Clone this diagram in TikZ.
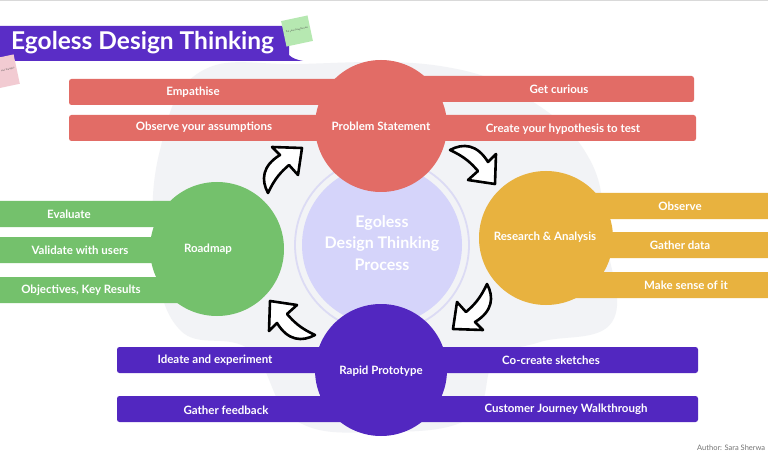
\documentclass[tikz,border=0pt]{standalone}
\usepackage{fontspec}
\setmainfont{Lato}
\definecolor{cred}{HTML}{E26C66}
\definecolor{cgreen}{HTML}{74C16C}
\definecolor{cyellow}{HTML}{E8B23F}
\definecolor{cpurple}{HTML}{5227C0}
\definecolor{cbanner}{HTML}{5A2DC6}
\definecolor{clav}{HTML}{D5D4FA}
\definecolor{cring}{HTML}{DCDBF4}
\definecolor{cblob}{HTML}{F2F3F6}
\definecolor{cnoteg}{HTML}{B6E8B1}
\definecolor{cnotep}{HTML}{F2CBD2}
\begin{document}
\begin{tikzpicture}[x=1pt,y=-1pt,
  bar/.style={rounded corners=2.5pt},
  lbl/.style={text=white,font=\fontsize{11.5}{13}\selectfont\bfseries,inner sep=0pt},
  note/.style={inner sep=0pt,font=\fontsize{2.2}{2.6}\selectfont,text=black!70},
  arrowline/.style={draw=black,fill=white,line width=2.6pt,line join=round},
  curvyarrow/.pic={
    \draw[arrowline] (21,-22) -- (-9,-23) -- (-1,-15)
      .. controls (-19,-4) and (-20,10) .. (-13,23)
      .. controls (-6,8) and (0,2) .. (8,-5)
      -- (17,5) -- cycle;
  }]
\useasboundingbox (0,0) rectangle (768,457);
\fill[white] (0,0) rectangle (768,457);
\draw[black!15,line width=1pt] (0,0.5) -- (768,0.5);

% background blob
\fill[cblob] plot[smooth cycle,tension=0.7] coordinates {
  (200,72) (300,64) (440,66) (530,100) (590,160) (606,240) (612,322)
  (540,342) (495,360) (470,418) (380,432) (295,420) (250,350)
  (180,330) (155,250) (160,150)};

% title banner
\fill[cbanner] (0,26) -- (289,26) -- (289,55) .. controls (292,58) and (297,60) .. (303,61)
  -- (280,61) -- (0,61) -- cycle;
\node[anchor=west,text=white,font=\fontsize{24.5}{28}\selectfont\bfseries,inner sep=0pt]
  (title) at (11,43) {Egoless Design Thinking};
% sticky notes
\fill[cnoteg,rotate around={12:(297,31)}] (283.5,18) rectangle (310.5,44);
\node[note,rotate=12] (noteg) at (297,30) {Put your thoughts here};
\fill[cnotep,rotate around={12:(3,72)}] (-11,57) rectangle (17,87);
\node[note,rotate=12,anchor=west] (notep) at (1,71) {your thoughts};

% central circle
\draw[cring,line width=1.8pt] (382,245) circle (87);
\fill[clav] (382,245) circle (80);
\node[text=white,font=\fontsize{16}{21.5}\selectfont\bfseries,align=center] (center) at (382,243)
  {Egoless\\Design Thinking\\Process};

% red group
\fill[cred,bar] (69,79) rectangle (380,105);
\fill[cred,bar] (69,115) rectangle (380,141);
\fill[cred,bar] (380,76) rectangle (694,102);
\fill[cred,bar] (380,115) rectangle (696,141);
\fill[cred] (381,126) circle (66);
\node[lbl] (empathise) at (193,92) {Empathise};
\node[lbl] (observeass) at (204,127) {Observe your assumptions};
\node[lbl] (curious) at (559,89) {Get curious};
\node[lbl] (hypo) at (563,129) {Create your hypothesis to test};
\node[lbl] (problem) at (381,126) {Problem Statement};

% green group
\fill[cgreen,bar] (-5,201) rectangle (215,227);
\fill[cgreen,bar] (-5,237) rectangle (215,263);
\fill[cgreen,bar] (-5,277) rectangle (215,303);
\fill[cgreen] (217,249) circle (67);
\node[lbl] (evaluate) at (69,214) {Evaluate};
\node[lbl] (validate) at (80,250) {Validate with users};
\node[lbl] (okr) at (81,290) {Objectives, Key Results};
\node[lbl] (roadmap) at (208,249) {Roadmap};

% yellow group
\fill[cyellow,bar] (546,193) rectangle (775,219);
\fill[cyellow,bar] (546,232) rectangle (775,258);
\fill[cyellow,bar] (546,272) rectangle (775,298);
\fill[cyellow] (546,238) circle (67);
\node[lbl] (observe) at (680,206) {Observe};
\node[lbl] (gather) at (680,245) {Gather data};
\node[lbl] (sense) at (686,285) {Make sense of it};
\node[lbl] (research) at (545,237) {Research \& Analysis};

% purple group
\fill[cpurple,bar] (117,347) rectangle (381,373);
\fill[cpurple,bar] (117,396) rectangle (381,422);
\fill[cpurple,bar] (381,347) rectangle (698,373);
\fill[cpurple,bar] (381,396) rectangle (698,422);
\fill[cpurple] (381,370) circle (66);
\node[lbl] (ideate) at (215,360) {Ideate and experiment};
\node[lbl] (feedback) at (226,410) {Gather feedback};
\node[lbl] (cocreate) at (551,360) {Co-create sketches};
\node[lbl] (journey) at (566,409) {Customer Journey Walkthrough};
\node[lbl] (rapid) at (381,371) {Rapid Prototype};

% cycle arrows
\pic at (281,170) {curvyarrow};
\pic[rotate=-90] at (473,163) {curvyarrow};
\pic[rotate=180] at (474,307) {curvyarrow};
\pic[rotate=90] at (292,322) {curvyarrow};

% author
\node[anchor=west,text=black!55,font=\fontsize{7.5}{9}\selectfont,inner sep=0pt]
  (author) at (697,448) {Author: Sara Sherwa};
\end{tikzpicture}
\end{document}
